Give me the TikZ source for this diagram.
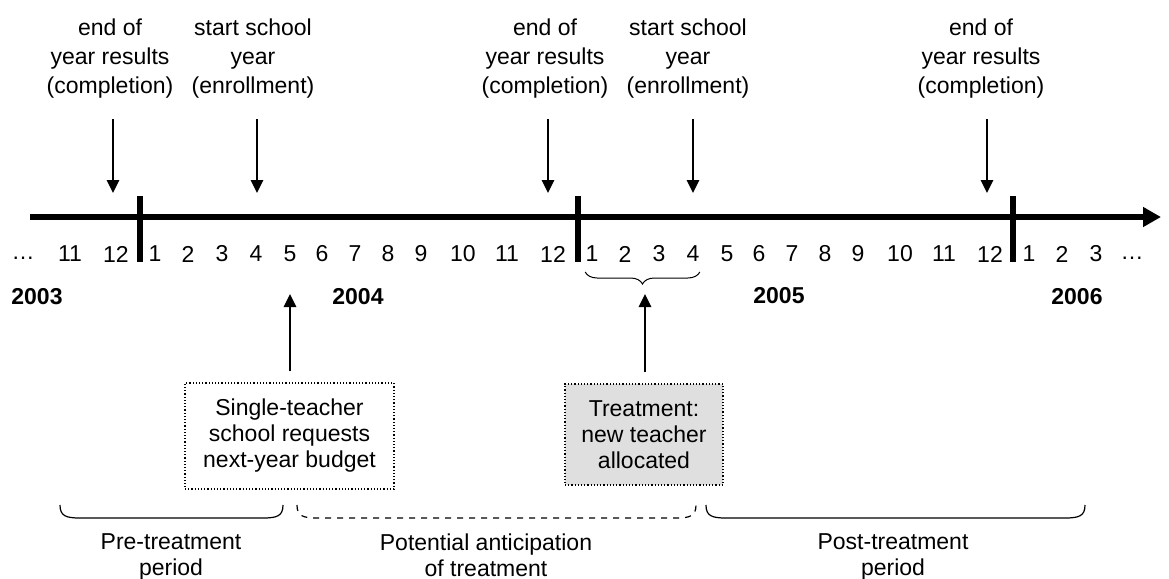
\documentclass[tikz,border=0pt]{standalone}
\usepackage{fontspec}
\setmainfont{Liberation Sans}
\usetikzlibrary{arrows.meta,decorations.pathreplacing}

\tikzset{
  evt/.style={align=center,inner sep=0pt,font=\fontsize{11.5}{14.5}\selectfont},
  month/.style={inner sep=0pt,font=\fontsize{11.5}{13}\selectfont},
  yr/.style={inner sep=0pt,font=\fontsize{11.5}{13}\selectfont\bfseries},
  dn/.style={line width=1.3pt,-{Triangle[length=6.5pt,width=6pt]}},
  req/.style={draw,densely dotted,line width=0.6pt,align=center,inner sep=0pt,font=\fontsize{11.5}{13}\selectfont},
  per/.style={anchor=north,align=center,inner sep=0pt,font=\fontsize{11.5}{13}\selectfont},
  bar/.style={line width=3pt}
}

\begin{document}
\begin{tikzpicture}[x=0.5pt,y=-0.5pt]
\useasboundingbox (0,0) rectangle (1169,579);

%time axis
\coordinate (ax0) at (30,217);
\coordinate (ax1) at (1161,217);
\draw[bar,-{Triangle[length=9pt,width=9.5pt]}] (ax0) -- (ax1);

%year bars
\draw[bar] (140,196) -- (140,262);
\draw[bar] (578,196) -- (578,262);
\draw[bar] (1013,196) -- (1013,262);

%months
\node[month] (dl) at (23,258) {\ldots};
\foreach \m/\x in {11/507,12/553} \node[month] (a\m) at (\x-437,254) {\m};
\foreach \m/\x in {1/155,2/188,3/222,4/256,5/290,6/322,7/355,8/388,9/421,10/463,11/507,12/553}{
  \node[month] (b\m) at (\x,254) {\m};
  \node[month] (c\m) at (\x+437,254) {\m};
}
\foreach \m/\x in {1/155,2/188,3/222} \node[month] (d\m) at (\x+874,254) {\m};
\node[month] (dr) at (1132,258) {\ldots};

%years
\node[yr] (y03) at (37,297) {2003};
\node[yr] (y04) at (358,297) {2004};
\node[yr] (y05) at (779,296) {2005};
\node[yr] (y06) at (1077,297) {2006};

%events on top
\node[evt] (e1) at (110,59) {end of\\year results\\(completion)};
\node[evt] (s1) at (253,59) {start school\\year\\(enrollment)};
\node[evt] (e2) at (545,59) {end of\\year results\\(completion)};
\node[evt] (s2) at (688,59) {start school\\year\\(enrollment)};
\node[evt] (e3) at (981,59) {end of\\year results\\(completion)};

\coordinate (t1) at (113,193);
\coordinate (t2) at (257,193);
\coordinate (t3) at (548,193);
\coordinate (t4) at (693,193);
\coordinate (t5) at (987,193);
\draw[dn,shorten <=10pt] (t1 |- e1.south) -- (t1);
\draw[dn,shorten <=10pt] (t2 |- s1.south) -- (t2);
\draw[dn,shorten <=10pt] (t3 |- e2.south) -- (t3);
\draw[dn,shorten <=10pt] (t4 |- s2.south) -- (t4);
\draw[dn,shorten <=10pt] (t5 |- e3.south) -- (t5);

%boxes below
\node[req,minimum width=104.5pt,minimum height=53pt] (bud) at (289.5,436) {Single-teacher\\school requests\\next-year budget};
\node[req,fill=gray!25,minimum width=79pt,minimum height=50.5pt] (trt) at (644,434.5) {Treatment:\\new teacher\\allocated};

\coordinate (u1) at (290,294);
\coordinate (u2) at (645,294);
\draw[dn,shorten <=5.5pt] (u1 |- bud.north) -- (u1);
\draw[dn,shorten <=5.5pt] (u2 |- trt.north) -- (u2);

%brace under months 1-4
\draw[line width=0.5pt,decorate,decoration={brace,mirror,amplitude=6pt}] (c1.south west |- 0,272) -- (c4.south east |- 0,272);

%periods
\draw[line width=0.6pt] (60,505) .. controls (60,516) and (66,518) .. (80,518) -- (263,518) .. controls (277,518) and (283,516) .. (283,505);
\draw[line width=0.6pt,dashed] (297,505) .. controls (297,516) and (303,518) .. (317,518) -- (676,518) .. controls (690,518) and (696,516) .. (696,505);
\draw[line width=0.6pt] (706,505) .. controls (706,516) and (712,518) .. (726,518) -- (1065,518) .. controls (1079,518) and (1085,516) .. (1085,505);

\node[per] (pre) at (171,533) {Pre-treatment\\period};
\node[per] (ant) at (486,533) {Potential anticipation\\of treatment};
\node[per] (post) at (893,533) {Post-treatment\\period};

\end{tikzpicture}
\end{document}
